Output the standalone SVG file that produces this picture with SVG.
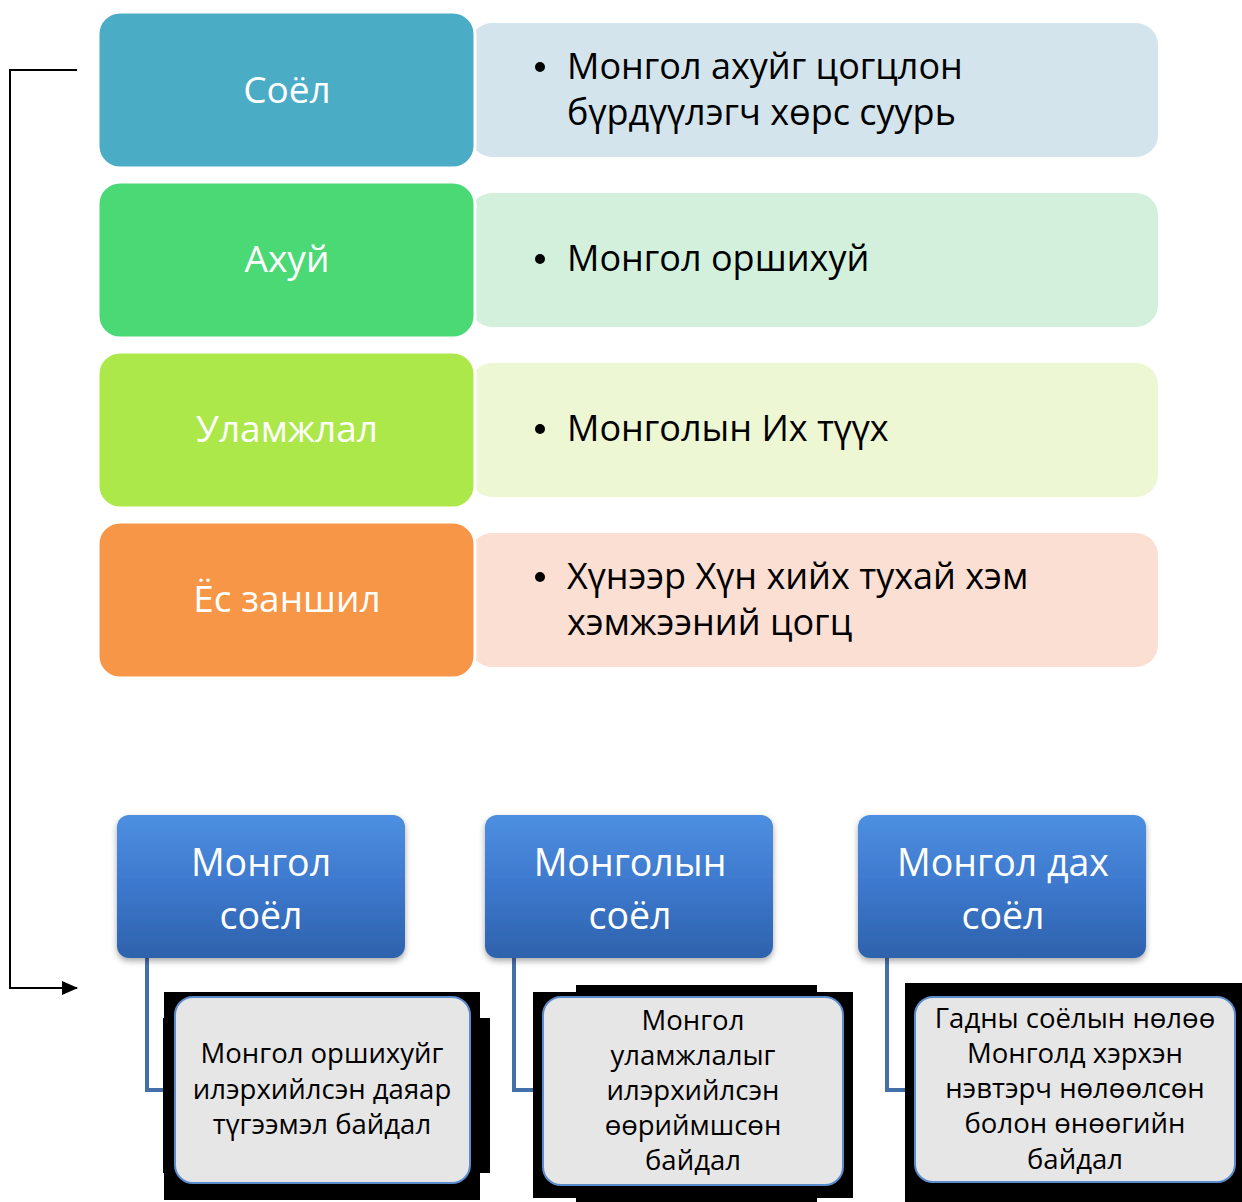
<svg xmlns="http://www.w3.org/2000/svg" width="1242" height="1202" viewBox="0 0 1242 1202">
<defs>
<linearGradient id="blue" x1="0" y1="0" x2="0" y2="1">
<stop offset="0" stop-color="#4D8FE0"/>
<stop offset="0.5" stop-color="#3D78CD"/>
<stop offset="1" stop-color="#2E62AC"/>
</linearGradient>
<filter id="sh" x="-10%" y="-10%" width="120%" height="130%">
<feDropShadow dx="0" dy="3" stdDeviation="3" flood-color="#000" flood-opacity="0.35"/>
</filter>
<marker id="arr" markerWidth="16" markerHeight="14" refX="15" refY="7" orient="auto" markerUnits="userSpaceOnUse">
<path d="M0,0 L16,7 L0,14 Z" fill="#000"/>
</marker>
</defs>
<style>
.lbl{font-family:"Open Sans","Liberation Sans",sans-serif;font-size:37px;fill:#fff;text-anchor:middle}
.bt{font-family:"Open Sans","Liberation Sans",sans-serif;font-size:36px;fill:#000}
.hd{font-family:"Open Sans","Liberation Sans",sans-serif;font-size:37.5px;fill:#fff;text-anchor:middle}
.gt{font-family:"Open Sans","Liberation Sans",sans-serif;font-size:27.5px;fill:#000;text-anchor:middle}
.left{stroke:#fff;stroke-width:3}
.gray{fill:#E6E6E6;stroke:#5B8CCB;stroke-width:2}
.conn{fill:none;stroke:#4470AA;stroke-width:4}
</style>
<g id="connectors">
<path d="M77,70 H10 V988 H77" fill="none" stroke="#000" stroke-width="2" marker-end="url(#arr)"/>
<path class="conn" d="M147,958 V1090 H177"/>
<path class="conn" d="M514,958 V1090 H545"/>
<path class="conn" d="M887,958 V1090 H917"/>
</g>
<g id="row1">
<rect x="470" y="23" width="688" height="134" rx="22" fill="#D3E4EC"/>
<rect class="left" x="98" y="12" width="377" height="156" rx="22" fill="#4BACC6"/>
<text class="lbl" x="287" y="103">Соёл</text>
<circle cx="540" cy="67" r="5"/>
<text class="bt" x="567" y="79">Монгол ахуйг цогцлон</text>
<text class="bt" x="567" y="125">бүрдүүлэгч хөрс суурь</text>
</g>
<g id="row2">
<rect x="470" y="193" width="688" height="134" rx="22" fill="#D3F0DC"/>
<rect class="left" x="98" y="182" width="377" height="156" rx="22" fill="#4AD975"/>
<text class="lbl" x="287" y="272">Ахуй</text>
<circle cx="540" cy="259" r="5"/>
<text class="bt" x="567" y="271">Монгол оршихуй</text>
</g>
<g id="row3">
<rect x="470" y="363" width="688" height="134" rx="22" fill="#EDF7D3"/>
<rect class="left" x="98" y="352" width="377" height="156" rx="22" fill="#ADE84A"/>
<text class="lbl" x="287" y="442">Уламжлал</text>
<circle cx="540" cy="429" r="5"/>
<text class="bt" x="567" y="441">Монголын Их түүх</text>
</g>
<g id="row4">
<rect x="470" y="533" width="688" height="134" rx="22" fill="#FBDFD3"/>
<rect class="left" x="98" y="522" width="377" height="156" rx="22" fill="#F79646"/>
<text class="lbl" x="287" y="612">Ёс заншил</text>
<circle cx="540" cy="577" r="5"/>
<text class="bt" x="567" y="589">Хүнээр Хүн хийх тухай хэм</text>
<text class="bt" x="567" y="635">хэмжээний цогц</text>
</g>
<g id="top1">
<rect x="117" y="815" width="288" height="143" rx="12" fill="url(#blue)" filter="url(#sh)"/>
<text class="hd" x="261" y="876">Монгол</text>
<text class="hd" x="261" y="929">соёл</text>
</g>
<g id="top2">
<rect x="485" y="815" width="288" height="143" rx="12" fill="url(#blue)" filter="url(#sh)"/>
<text class="hd" x="630" y="876">Монголын</text>
<text class="hd" x="630" y="929">соёл</text>
</g>
<g id="top3">
<rect x="858" y="815" width="288" height="143" rx="12" fill="url(#blue)" filter="url(#sh)"/>
<text class="hd" x="1003" y="876">Монгол дах</text>
<text class="hd" x="1003" y="929">соёл</text>
</g>
<g id="sub1">
<rect x="164" y="992" width="316" height="208" fill="#000"/>
<rect x="163" y="1018" width="327" height="155" fill="#000"/>
<rect class="gray" x="175" y="997" width="295" height="186" rx="18"/>
<text class="gt" x="322" y="1063">Монгол оршихуйг</text>
<text class="gt" x="322" y="1099">илэрхийлсэн даяар</text>
<text class="gt" x="322" y="1134">түгээмэл байдал</text>
</g>
<g id="sub2">
<rect x="576" y="985" width="241" height="217" fill="#000"/>
<rect x="533" y="992" width="320" height="206" fill="#000"/>
<rect class="gray" x="543" y="997" width="300" height="188" rx="18"/>
<text class="gt" x="693" y="1030">Монгол</text>
<text class="gt" x="693" y="1065">уламжлалыг</text>
<text class="gt" x="693" y="1100">илэрхийлсэн</text>
<text class="gt" x="693" y="1135">өөриймшсөн</text>
<text class="gt" x="693" y="1170">байдал</text>
</g>
<g id="sub3">
<rect x="905" y="983" width="337" height="219" fill="#000"/>
<rect class="gray" x="915" y="997" width="320" height="185" rx="18"/>
<text class="gt" x="1075" y="1028">Гадны соёлын нөлөө</text>
<text class="gt" x="1075" y="1063">Монголд хэрхэн</text>
<text class="gt" x="1075" y="1098">нэвтэрч нөлөөлсөн</text>
<text class="gt" x="1075" y="1133">болон өнөөгийн</text>
<text class="gt" x="1075" y="1169">байдал</text>
</g>
</svg>
